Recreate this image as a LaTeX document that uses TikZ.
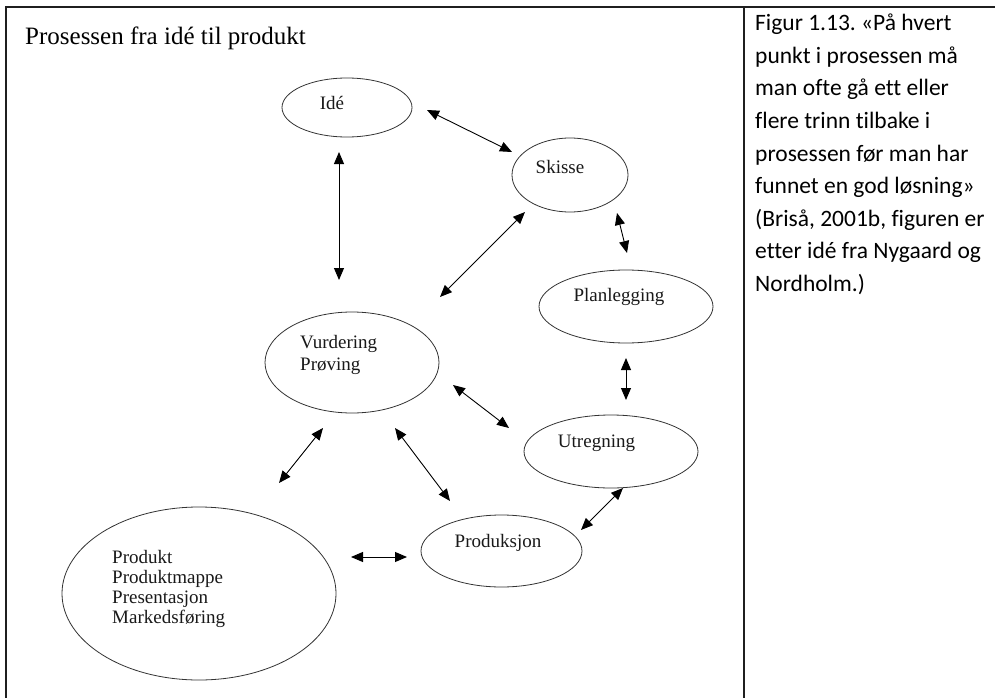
\documentclass[tikz,border=0pt]{standalone}
\usepackage{fontspec}
\setmainfont{Liberation Serif}
\newfontfamily\capfont[Ligatures=NoCommon]{Carlito}
\usetikzlibrary{shapes.geometric,arrows.meta}
\frenchspacing
\begin{document}
\begin{tikzpicture}[x=1pt,y=-1pt,
  framel/.style={line width=2pt, draw=black!88},
  bub/.style={ellipse, draw=black!80, line width=0.8pt, inner sep=0},
  lab/.style={font=\fontsize{19}{22}\selectfont, inner sep=0, text=black!90},
  arr/.style={line width=0.9pt, {Triangle[length=12pt,width=10pt]}-{Triangle[length=12pt,width=10pt]}},
  captxt/.style={font=\capfont\fontsize{23.5}{28}\selectfont, anchor=base west, inner sep=0}]
\useasboundingbox (0,0) rectangle (995,698);
\fill[white] (0,0) rectangle (995,698);
% frame
\coordinate (fTL) at (6,7);
\coordinate (fTR) at (995,7);
\coordinate (fBL) at (6,698);
\coordinate (dT) at (744,7);
\coordinate (dB) at (744,698);
\draw[framel] (fTR) -- (fTL) -- (fBL);
\draw[framel] (dT) -- (dB);
% title
\node[anchor=base west, inner sep=0, font=\fontsize{25}{30}\selectfont] (title) at (25,45) {Prosessen fra idé til produkt};
% ellipses
\node[bub, minimum width=130pt, minimum height=59pt] (ide) at (347,107.5) {};
\node[lab] (ideT) at (332,103) {Idé};
\node[bub, minimum width=116pt, minimum height=74pt] (ski) at (570,175) {};
\node[lab] (skiT) at (560,167) {Skisse};
\node[bub, minimum width=174pt, minimum height=73pt] (pla) at (626,306.5) {};
\node[lab] (plaT) at (619,297) {Planlegging};
\node[bub, minimum width=174pt, minimum height=101pt] (vur) at (352,362.5) {};
\node[lab, align=left, anchor=west] (vurT) at (300,354.5) {Vurdering\\Prøving};
\node[bub, minimum width=174pt, minimum height=73pt] (utr) at (611,451.5) {};
\node[lab] (utrT) at (596.5,443) {Utregning};
\node[bub, minimum width=161pt, minimum height=72pt] (pro) at (501.5,551) {};
\node[lab] (proT) at (498,543) {Produksjon};
\node[bub, minimum width=274pt, minimum height=173pt] (pdk) at (199,593.5) {};
\node[lab, align=left, anchor=west, font=\fontsize{19}{20}\selectfont] (pdkT) at (112,589) {Produkt\\Produktmappe\\Presentasjon\\Markedsføring};
% arrow end points
\coordinate (a1a) at (427,110); \coordinate (a1b) at (512,152);
\coordinate (a2a) at (339,152); \coordinate (a2b) at (339,280);
\coordinate (a3a) at (525,212); \coordinate (a3b) at (440,297);
\coordinate (a4a) at (617,213); \coordinate (a4b) at (627,253);
\coordinate (a5a) at (626,358); \coordinate (a5b) at (626,400);
\coordinate (a6a) at (453,385); \coordinate (a6b) at (509,428);
\coordinate (a7a) at (323,428); \coordinate (a7b) at (279,483);
\coordinate (a8a) at (395,428); \coordinate (a8b) at (450,501);
\coordinate (a9a) at (623,488); \coordinate (a9b) at (581,530);
\coordinate (a10a) at (351,557); \coordinate (a10b) at (407,557);
\draw[arr] (a1a) -- (a1b);
\draw[arr] (a2a) -- (a2b);
\draw[arr] (a3a) -- (a3b);
\draw[arr] (a4a) -- (a4b);
\draw[arr] (a5a) -- (a5b);
\draw[arr] (a6a) -- (a6b);
\draw[arr] (a7a) -- (a7b);
\draw[arr] (a8a) -- (a8b);
\draw[arr] (a9a) -- (a9b);
\draw[arr] (a10a) -- (a10b);
% caption
\node[captxt] (c1) at (755,31) {Figur 1.13. «På hvert};
\node[captxt] (c2) at (755,63.5) {punkt i prosessen må};
\node[captxt] (c3) at (755,96) {man ofte gå ett eller};
\node[captxt] (c4) at (755,128.5) {flere trinn tilbake i};
\node[captxt] (c5) at (755,161) {prosessen før man har};
\node[captxt] (c6) at (755,193.5) {funnet en god løsning»};
\node[captxt] (c7) at (755,226) {(Briså, 2001b, figuren er};
\node[captxt] (c8) at (755,258.5) {etter idé fra Nygaard og};
\node[captxt] (c9) at (755,291) {Nordholm.)};
\end{tikzpicture}
\end{document}
